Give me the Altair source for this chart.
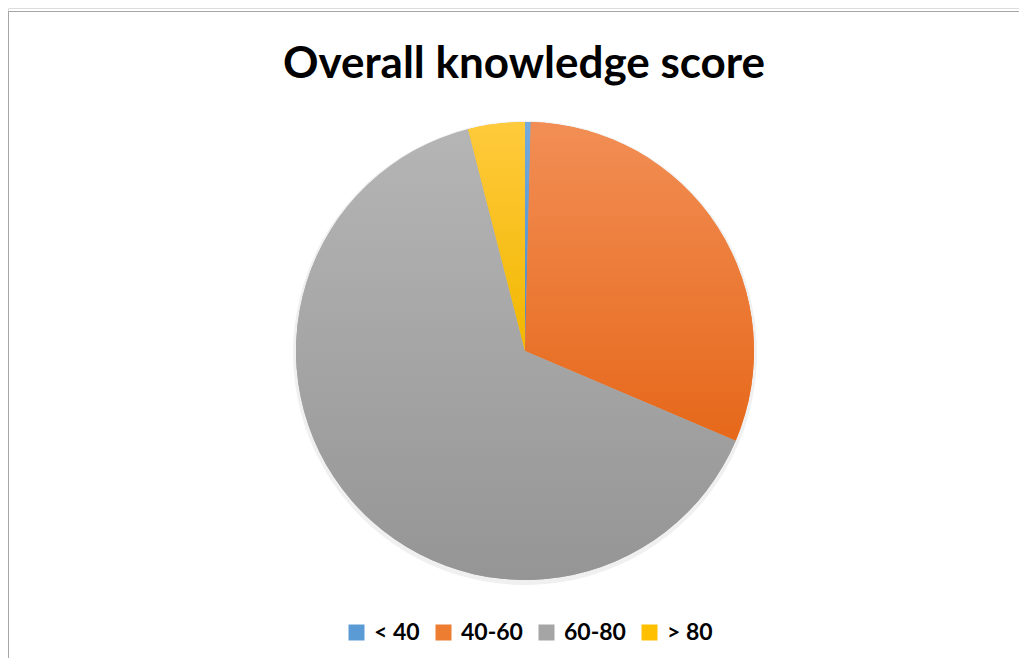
import altair as alt
import pandas as pd

categories = ["< 40", "40-60", "60-80", "> 80"]
values = [0.4, 31.0, 64.6, 4.0]
colors = ["#5B9BD5", "#ED7D31", "#A5A5A5", "#FFC000"]
grad_top = ["#74ABDD", "#F28E55", "#B5B5B5", "#FFCA3C"]
grad_bot = ["#4A89C8", "#E6681A", "#959595", "#F2B700"]

title_text = "Overall knowledge score"

starts = []
acc = 0.0
for v in values:
    starts.append(acc)
    acc += v
df = pd.DataFrame({
    "category": categories,
    "value": values,
    "start": starts,
    "end": [s + v for s, v in zip(starts, values)],
    "order": list(range(len(categories))),
})

W, H = 1011, 650
CX, CY, R = 517, 343, 229

theta_scale = alt.Scale(domain=[0, 100])

base = alt.Chart(df).mark_arc(outerRadius=R, stroke=None).encode(
    theta=alt.Theta("start:Q", scale=theta_scale),
    theta2="end:Q",
    x=alt.value(CX),
    y=alt.value(CY),
    color=alt.Color(
        "category:N",
        scale=alt.Scale(domain=categories, range=colors),
        legend=alt.Legend(
            title=None,
            orient="none",
            direction="horizontal",
            legendX=337,
            legendY=613,
            symbolType="square",
            symbolSize=256,
            symbolStrokeWidth=0,
            labelFontSize=23,
            labelFont="Lato",
            labelFontWeight="bold",
            labelColor="#000000",
            labelOffset=6,
            columnPadding=12,
            gridAlign="none",
        ),
    ),
)

# soft shadow behind pie
shadow = alt.Chart(df).mark_arc(outerRadius=R + 3, color="#000000", opacity=0.06).encode(
    theta=alt.Theta("start:Q", scale=theta_scale),
    theta2="end:Q",
    x=alt.value(CX),
    y=alt.value(CY + 2),
)

layers = [shadow, base]
for i, cat in enumerate(categories):
    grad = alt.Gradient(
        gradient="linear",
        x1=0, y1=0, x2=0, y2=1,
        stops=[alt.GradientStop(offset=0, color=grad_top[i]),
               alt.GradientStop(offset=1, color=grad_bot[i])],
    )
    layers.append(
        alt.Chart(df).transform_filter(alt.datum.category == cat)
        .mark_arc(outerRadius=R, fill=grad, stroke=None)
        .encode(
            theta=alt.Theta("start:Q", scale=theta_scale),
            theta2="end:Q",
            x=alt.value(CX),
            y=alt.value(CY),
        )
    )

title = alt.Chart(pd.DataFrame({"t": [title_text]})).mark_text(
    font="Lato", fontSize=44, fontWeight="bold", color="#000000",
    align="center", baseline="alphabetic",
).encode(text="t:N", x=alt.value(516), y=alt.value(70))

frame_left = alt.Chart(pd.DataFrame({"a": [0]})).mark_rule(color="#A6A6A6", strokeWidth=2).encode(
    x=alt.value(0), y=alt.value(3), y2=alt.value(H)
)
frame_top = alt.Chart(pd.DataFrame({"a": [0]})).mark_rule(color="#A6A6A6", strokeWidth=1).encode(
    x=alt.value(0), x2=alt.value(W), y=alt.value(3.5)
)

chart = alt.layer(frame_left, frame_top, *layers, title).properties(
    width=W, height=H, padding=0,
    autosize=alt.AutoSizeParams(type="none"),
).configure_view(stroke=None).configure(background="#FFFFFF")

chart.save("out.html", embed_options={"renderer": "svg", "actions": False})
